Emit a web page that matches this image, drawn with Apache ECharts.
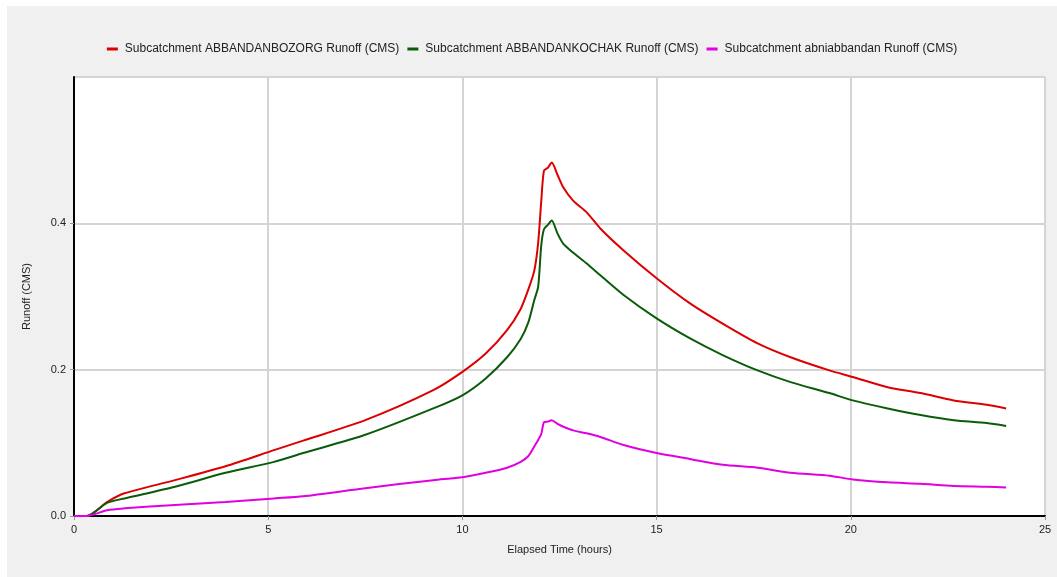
<!DOCTYPE html>
<html>
<head>
<meta charset="utf-8">
<script src="https://cdn.jsdelivr.net/npm/echarts@6/dist/echarts.min.js"></script>
<style>
    html, body { margin: 0; padding: 0; background: #fff; }
    #main { position: absolute; left: 7px; top: 6px; width: 1050px; height: 571px; background: #f0f0f0; }
</style>
</head>
<body>
<div id="main"></div>
<script>
// elapsed time (hours)
var times = [0, 0.33, 0.85, 1.3, 2.6, 3.9, 5.15, 5.9, 7.5, 9.25, 10, 10.6, 11.15, 11.5, 11.7, 11.85, 11.95, 12.03, 12.1, 12.2, 12.3, 12.45, 12.6, 12.85, 13.2, 13.55, 14.15, 15, 15.85, 16.7, 17.6, 18.45, 19.45, 20.05, 20.95, 21.8, 22.65, 23.5, 24];
var bozorg = [0, 0, 0.019, 0.031, 0.049, 0.068, 0.090, 0.103, 0.131, 0.172, 0.197, 0.222, 0.254, 0.283, 0.310, 0.335, 0.373, 0.430, 0.472, 0.476, 0.483, 0.466, 0.449, 0.431, 0.415, 0.393, 0.363, 0.325, 0.291, 0.263, 0.236, 0.217, 0.199, 0.190, 0.176, 0.168, 0.158, 0.152, 0.147];
var kochak = [0, 0, 0.018, 0.024, 0.040, 0.059, 0.074, 0.086, 0.111, 0.147, 0.165, 0.188, 0.217, 0.242, 0.265, 0.295, 0.313, 0.370, 0.392, 0.398, 0.404, 0.386, 0.372, 0.360, 0.345, 0.329, 0.302, 0.270, 0.243, 0.220, 0.199, 0.183, 0.168, 0.158, 0.147, 0.138, 0.131, 0.127, 0.123];
var abni = [0, 0, 0.008, 0.0105, 0.015, 0.019, 0.024, 0.027, 0.038, 0.049, 0.053, 0.059, 0.066, 0.074, 0.082, 0.095, 0.104, 0.112, 0.128, 0.129, 0.131, 0.126, 0.122, 0.117, 0.113, 0.108, 0.097, 0.086, 0.078, 0.070, 0.066, 0.059, 0.055, 0.050, 0.046, 0.044, 0.041, 0.040, 0.039];
var seriesNames = ['Subcatchment ABBANDANBOZORG Runoff (CMS)', 'Subcatchment ABBANDANKOCHAK Runoff (CMS)', 'Subcatchment abniabbandan Runoff (CMS)'];
var seriesColors = ['#dd0000', '#0a5c0a', '#e000e0'];

function pairs(vals) {
    return times.map(function (t, i) { return [t, vals[i]]; });
}

var myChart = echarts.init(document.getElementById('main'));
var font = 'Liberation Sans, Arial, sans-serif';
option = {
    animation: false,
    textStyle: { fontFamily: font },
    color: seriesColors,
    legend: {
        top: 32,
        left: 'center',
        icon: 'rect',
        itemWidth: 11,
        itemHeight: 3,
        itemGap: 8,
        textStyle: { fontSize: 12, color: '#222', fontFamily: font, padding: [0, 0, 0, 2] },
        data: seriesNames
    },
    grid: {
        left: 67, top: 71, right: 12, bottom: 61,
        show: true,
        backgroundColor: '#fff',
        borderColor: '#444',
        borderWidth: 1
    },
    xAxis: {
        type: 'value',
        min: 0, max: 25, interval: 5,
        name: 'Elapsed Time (hours)',
        nameLocation: 'middle',
        nameGap: 28,
        nameTextStyle: { fontSize: 11, color: '#222' },
        axisLine: { show: true, lineStyle: { color: '#000', width: 2 } },
        axisTick: { show: true, length: 4, lineStyle: { color: '#999' } },
        axisLabel: { fontSize: 11, color: '#222', margin: 8 },
        splitLine: { show: true, lineStyle: { color: '#d4d4d4', width: 2 } }
    },
    yAxis: {
        type: 'value',
        min: 0, max: 0.6, interval: 0.2,
        name: 'Runoff (CMS)',
        nameLocation: 'middle',
        nameGap: 42,
        nameTextStyle: { fontSize: 11, color: '#222' },
        axisLine: { show: true, lineStyle: { color: '#000', width: 2 } },
        axisTick: { show: true, length: 4, lineStyle: { color: '#999' } },
        axisLabel: {
            fontSize: 11, color: '#222', margin: 8, showMaxLabel: false,
            formatter: function (v) { return v.toFixed(1); }
        },
        splitLine: { show: true, lineStyle: { color: '#d4d4d4', width: 2 } }
    },
    series: [
        { name: seriesNames[0], type: 'line', data: pairs(bozorg), showSymbol: false, smooth: 0.25, lineStyle: { width: 2 }, z: 3 },
        { name: seriesNames[1], type: 'line', data: pairs(kochak), showSymbol: false, smooth: 0.25, lineStyle: { width: 2 }, z: 3 },
        { name: seriesNames[2], type: 'line', data: pairs(abni), showSymbol: false, smooth: 0.25, lineStyle: { width: 2 }, z: 3 }
    ]
};
myChart.setOption(option);
</script>
</body>
</html>
